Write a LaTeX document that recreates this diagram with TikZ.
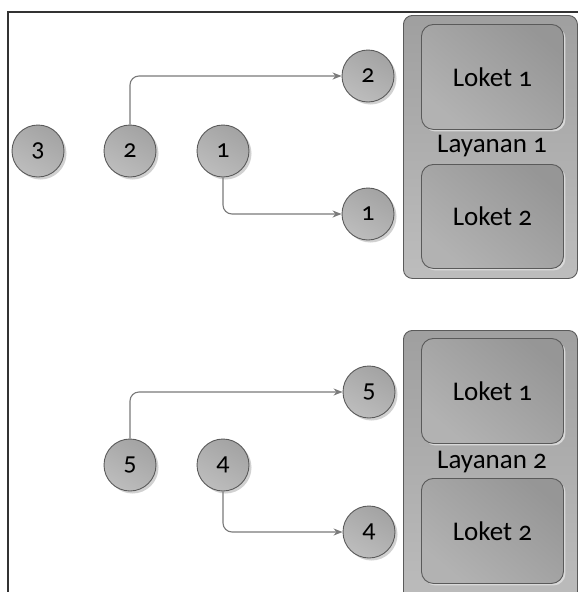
\documentclass[tikz,border=0pt]{standalone}
\usepackage{fontspec}
\setmainfont{Carlito}[Numbers=OldStyle]
\usetikzlibrary{arrows.meta,shadows}
\definecolor{edgegray}{HTML}{5A5A5A}
\definecolor{linegray}{HTML}{7A7A7A}
\tikzset{
  x=1pt,y=-1pt,
  queue/.style={circle, minimum size=52pt, inner sep=0pt, draw=edgegray, line width=0.9pt,
    top color=gray!72, bottom color=gray!52, shading angle=-30,
    drop shadow={shadow xshift=2.5pt, shadow yshift=-2.5pt, fill=black!18, opacity=1},
    font=\fontsize{26}{28}\selectfont},
  service/.style={rectangle, rounded corners=9pt, draw=edgegray, line width=0.9pt,
    left color=gray!75, right color=gray!52, shading angle=0, anchor=north west, inner sep=0pt},
  counter/.style={rectangle, rounded corners=12pt, draw=edgegray, line width=0.9pt,
    top color=gray!82, bottom color=gray!60, shading angle=-40, anchor=north west,
    minimum width=142pt, minimum height=105pt, inner sep=0pt,
    drop shadow={shadow xshift=2pt, shadow yshift=-2pt, fill=black!15, opacity=1},
    font=\fontsize{27}{29}\selectfont},
  flow/.style={draw=linegray, line width=1.1pt, rounded corners=9pt,
    -{Stealth[length=9pt,width=7pt]}},
  lbl/.style={font=\fontsize{27}{29}\selectfont, inner sep=0pt}
}
\begin{document}
\begin{tikzpicture}
\useasboundingbox (0,0) rectangle (578,592);
\clip (0,0) rectangle (578,592);
\fill[white] (0,0) rectangle (578,592);
% frame
\draw[line width=1.2pt, black!80] (8,620) |- (620,12);
% service boxes
\node[service, minimum width=174pt, minimum height=263pt] (lay1) at (403,15) {};
\node[service, minimum width=174pt, minimum height=280pt] (lay2) at (403,330) {};
\node[counter] (l1a) at (421,24) {Loket 1};
\node[counter, minimum height=104pt] (l1b) at (421,164) {Loket 2};
\node[lbl] (t1) at (492,146) {Layanan 1};
\node[counter] (l2a) at (421,338) {Loket 1};
\node[counter] (l2b) at (421,478) {Loket 2};
\node[lbl] (t2) at (492,462) {Layanan 2};
% queue circles top
\node[queue] (q3) at (38,151) {3};
\node[queue] (q2) at (130,151) {2};
\node[queue] (q1) at (223,151) {1};
\node[queue] (s2) at (368,76) {2};
\node[queue] (s1) at (368,214) {1};
% queue circles bottom
\node[queue] (p5) at (130,465) {5};
\node[queue] (p4) at (223,465) {4};
\node[queue] (u5) at (369,392) {5};
\node[queue] (u4) at (369,532) {4};
% connectors
\draw[flow] (q2.north) |- (s2.west);
\draw[flow] (q1.south) |- (s1.west);
\draw[flow] (p5.north) |- (u5.west);
\draw[flow] (p4.south) |- (u4.west);
\end{tikzpicture}
\end{document}
